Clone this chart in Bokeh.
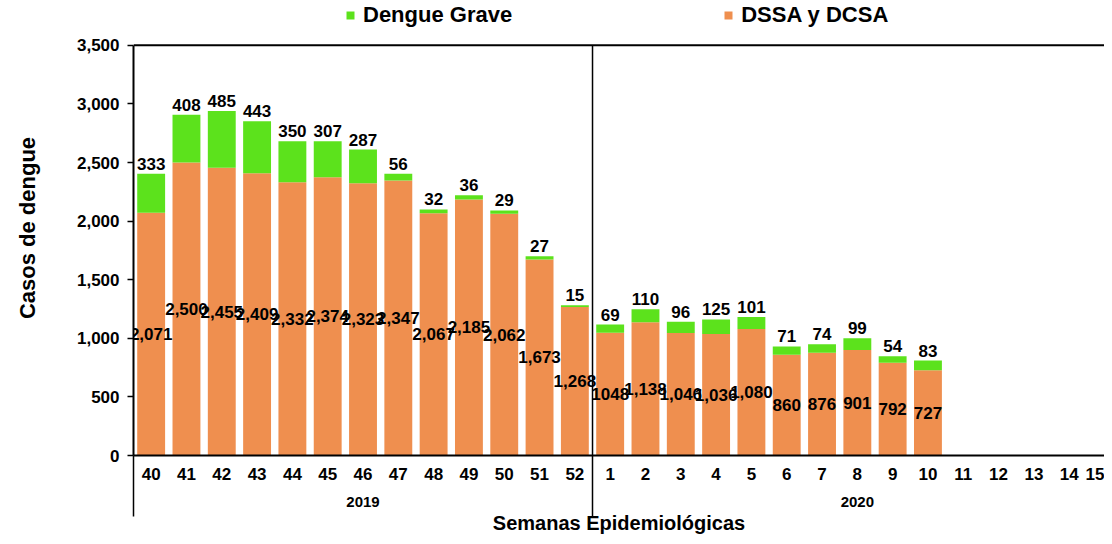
from bokeh.plotting import figure
from bokeh.models import (Range1d, FixedTicker, LinearAxis, Span, Legend, LegendItem,
                          ColumnDataSource, NumeralTickFormatter)
from bokeh.embed import file_html
from bokeh.resources import INLINE
from bokeh.core.properties import value

# ---------------- data ----------------
weeks = ["40", "41", "42", "43", "44", "45", "46", "47", "48", "49", "50", "51", "52",
         "1", "2", "3", "4", "5", "6", "7", "8", "9", "10", "11", "12", "13", "14", "15"]
years = ["2019", "2020"]
weeks_per_year = [13, 15]
dssa = [2071, 2500, 2455, 2409, 2332, 2374, 2323, 2347, 2067, 2185, 2062, 1673, 1268,
        1048, 1138, 1046, 1036, 1080, 860, 876, 901, 792, 727]
grave = [333, 408, 485, 443, 350, 307, 287, 56, 32, 36, 29, 27, 15,
         69, 110, 96, 125, 101, 71, 74, 99, 54, 83]
y_max = 3500

ORANGE = "#EF8F4F"
GREEN = "#5CE21C"
FONT = "Liberation Sans"

n = len(dssa)
xs = list(range(n))
dssa_text = [f"{v:,}" for v in dssa]
dssa_text[13] = "1048"  # printed without separator in the source
src = ColumnDataSource(dict(
    x=xs, dssa=dssa, grave=grave,
    total=[a + b for a, b in zip(dssa, grave)],
    mid=[a / 2 for a in dssa],
    dssa_text=dssa_text,
    grave_text=[str(v) for v in grave],
))

W, H = 1104, 536
BL, BT, BB = 133, 0, 79
frame_h = H - BT - BB            # 457 px
axis_px = 412                     # pixels used by 0..y_max
p = figure(width=W, height=H,
           x_range=Range1d(-0.5, 27.0),
           y_range=Range1d(0, y_max * frame_h / axis_px),
           output_backend="svg", toolbar_location=None,
           min_border_left=BL, min_border_right=0, min_border_top=BT, min_border_bottom=BB)
p.outline_line_color = None
p.xgrid.visible = False
p.ygrid.visible = False

r_dssa, r_grave = p.vbar_stack(["dssa", "grave"], x="x", width=0.79,
                               color=[ORANGE, GREEN], line_color=None, source=src)

# labels
p.text(x="x", y="total", text="grave_text", source=src, text_align="center",
       text_baseline="bottom", y_offset=-4, text_font=value(FONT), text_font_style="bold",
       text_font_size="17px", text_color="black")
p.text(x="x", y="mid", text="dssa_text", source=src, text_align="center",
       text_baseline="middle", text_font=value(FONT), text_font_style="bold",
       text_font_size="17px", text_color="black")

# year separator and top border of the plot area
sep = weeks_per_year[0] - 0.5
p.segment(x0=[sep], y0=[0], x1=[sep], y1=[y_max], line_color="black", line_width=1.5)
p.add_layout(Span(location=y_max, dimension="width", line_color="black", line_width=2))

# y axis
p.yaxis.ticker = FixedTicker(ticks=list(range(0, y_max + 1, 500)))
p.yaxis.bounds = (0, y_max)
p.yaxis.formatter = NumeralTickFormatter(format="0,0")
p.yaxis.axis_line_width = 2
p.yaxis.axis_line_color = "black"
p.yaxis.major_tick_out = 6
p.yaxis.major_tick_in = 0
p.yaxis.major_tick_line_width = 1.5
p.yaxis.minor_tick_line_color = None
p.yaxis.major_label_text_font = FONT
p.yaxis.major_label_text_font_style = "bold"
p.yaxis.major_label_text_font_size = "17px"
p.yaxis.major_label_text_color = "black"
p.yaxis.major_label_standoff = 8
p.yaxis.axis_label = "Casos de dengue"
p.yaxis.axis_label_text_font = FONT
p.yaxis.axis_label_text_font_style = "bold"
p.yaxis.axis_label_text_font_size = "22px"
p.yaxis.axis_label_text_color = "black"
p.yaxis.axis_label_standoff = 34

# x axis (weeks); group separators drawn as minor ticks pointing outward
xa = p.xaxis[0]
xa.ticker = FixedTicker(ticks=list(range(len(weeks))), minor_ticks=[-0.5, sep])
xa.major_label_overrides = {i: w for i, w in enumerate(weeks)}
xa.axis_line_width = 2
xa.axis_line_color = "black"
xa.major_tick_line_color = None
xa.major_tick_out = 0
xa.major_tick_in = 0
xa.minor_tick_line_color = "black"
xa.minor_tick_line_width = 1.5
xa.minor_tick_out = 0
xa.minor_tick_in = -61
xa.major_label_standoff = 12
xa.major_label_text_font = FONT
xa.major_label_text_font_style = "bold"
xa.major_label_text_font_size = "17px"
xa.major_label_text_color = "black"

# year axis
centers = []
start = 0
for k in weeks_per_year:
    centers.append(start + (k - 1) / 2)
    start += k
ya = LinearAxis(ticker=FixedTicker(ticks=centers),
                major_label_overrides={c: y for c, y in zip(centers, years)})
ya.axis_line_color = None
ya.major_tick_line_color = None
ya.minor_tick_line_color = None
ya.major_tick_out = 0
ya.major_tick_in = 0
ya.major_label_standoff = 14
ya.major_label_text_font = FONT
ya.major_label_text_font_style = "bold"
ya.major_label_text_font_size = "15px"
ya.major_label_text_color = "black"
ya.axis_label = "Semanas Epidemiológicas"
ya.axis_label_text_font = FONT
ya.axis_label_text_font_style = "bold"
ya.axis_label_text_font_size = "20px"
ya.axis_label_text_color = "black"
ya.axis_label_standoff = 2
p.add_layout(ya, "below")

# legend at the top, above the plot area border
legend = Legend(items=[LegendItem(label="Dengue Grave", renderers=[r_grave]),
                       LegendItem(label="DSSA y DCSA", renderers=[r_dssa])],
                orientation="horizontal", location=(212, frame_h - 30), spacing=211,
                glyph_width=10, glyph_height=10, label_standoff=8,
                label_text_font=FONT, label_text_font_style="bold",
                label_text_font_size="22px", label_text_color="black",
                border_line_color=None, background_fill_alpha=0,
                padding=0, margin=0)
p.add_layout(legend)

open("out.html", "w").write(file_html(p, INLINE))
